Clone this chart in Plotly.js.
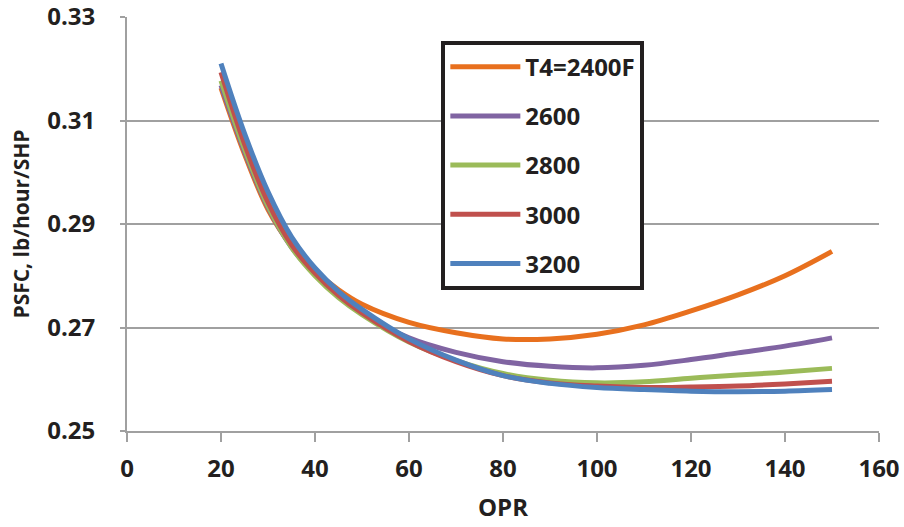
<!DOCTYPE html>
<html>
<head>
<meta charset="utf-8">
<script src="https://cdn.plot.ly/plotly-3.0.1.min.js"></script>
<style>html,body{margin:0;padding:0;background:#fff;}#chart{width:904px;height:527px;}</style>
</head>
<body>
<div id="chart"></div>
<script>
var opr = [20, 25, 30, 35, 40, 45, 50, 60, 70, 80, 90, 100, 110, 120, 130, 140, 150];
var psfc2400 = [0.3163, 0.3035, 0.2928, 0.2858, 0.2810, 0.2773, 0.2745, 0.2710, 0.2690, 0.2678, 0.2678, 0.2687, 0.2705, 0.2732, 0.2763, 0.2800, 0.2847];
var psfc2600 = [0.3168, 0.3040, 0.2932, 0.2855, 0.2802, 0.2760, 0.2728, 0.2680, 0.2652, 0.2634, 0.2625, 0.2622, 0.2627, 0.2638, 0.2651, 0.2664, 0.2680];
var psfc2800 = [0.3177, 0.3045, 0.2935, 0.2855, 0.2800, 0.2758, 0.2725, 0.2672, 0.2636, 0.2611, 0.2598, 0.2593, 0.2595, 0.2602, 0.2608, 0.2614, 0.2621];
var psfc3000 = [0.3193, 0.3055, 0.2942, 0.2860, 0.2805, 0.2762, 0.2728, 0.2673, 0.2634, 0.2607, 0.2593, 0.2587, 0.2584, 0.2585, 0.2587, 0.2591, 0.2596];
var psfc3200 = [0.3210, 0.3075, 0.2962, 0.2875, 0.2815, 0.2770, 0.2735, 0.2678, 0.2637, 0.2607, 0.2592, 0.2584, 0.2580, 0.2577, 0.2576, 0.2577, 0.2580];
var seriesNames = ["T4=2400F", "2600", "2800", "3000", "3200"];
var seriesColors = ["#E8701E", "#8064A2", "#9BBB59", "#C0504D", "#4F81BD"];
var seriesData = [psfc2400, psfc2600, psfc2800, psfc3000, psfc3200];
var yTickVals = [0.25, 0.27, 0.29, 0.31, 0.33];
var yTickText = ["0.25", "0.27", "0.29", "0.31", "0.33"];
var xTickVals = [0, 20, 40, 60, 80, 100, 120, 140, 160];

var fontFam = "Open Sans, Noto Sans, Arial, sans-serif";
var txtColor = "#231F20";
var traces = seriesData.map(function (ys, i) {
  return {
    x: opr, y: ys, type: "scatter", mode: "lines",
    name: seriesNames[i], legendgroup: "g" + i,
    line: {color: seriesColors[i], width: 5, shape: "spline", smoothing: 1}
  };
});

var layout = {
  width: 904, height: 527,
  margin: {l: 127, r: 25, t: 17, b: 96},
  paper_bgcolor: "#fff", plot_bgcolor: "#fff",
  font: {family: fontFam, color: txtColor, size: 20},
  showlegend: true,
  legend: {
    x: 0.418, y: 0.943, xanchor: "left", yanchor: "top",
    bgcolor: "#fff", bordercolor: txtColor, borderwidth: 4,
    font: {family: fontFam, size: 24, color: txtColor, weight: "bold"},
    traceorder: "grouped", tracegroupgap: 15,
    itemwidth: 70
  },
  xaxis: {
    range: [0, 160], tickmode: "array", tickvals: xTickVals,
    showgrid: false, zeroline: false,
    showline: true, linecolor: "#A0A0A0", linewidth: 2,
    ticks: "outside", ticklen: 9, tickwidth: 2, tickcolor: "#A0A0A0",
    ticklabelstandoff: 6, ticklabeloverflow: "allow",
    tickfont: {family: fontFam, size: 24, color: txtColor, weight: "bold"},
    title: {text: "OPR", font: {family: fontFam, size: 24, color: txtColor, weight: "bold"}, standoff: 16}
  },
  yaxis: {
    range: [0.25, 0.33], tickmode: "array", tickvals: yTickVals, ticktext: yTickText,
    showgrid: true, gridcolor: "#A0A0A0", gridwidth: 2,
    zeroline: false,
    showline: true, linecolor: "#A0A0A0", linewidth: 2,
    ticks: "outside", ticklen: 5, tickwidth: 2, tickcolor: "#A0A0A0",
    ticklabelstandoff: 20, ticklabeloverflow: "allow",
    tickfont: {family: fontFam, size: 24, color: txtColor, weight: "bold"},
    title: {text: "PSFC, lb/hour/SHP", font: {family: fontFam, size: 21, color: txtColor, weight: "bold"}, standoff: 12}
  }
};

Plotly.newPlot("chart", traces, layout, {displayModeBar: false, staticPlot: true});
</script>
</body>
</html>
